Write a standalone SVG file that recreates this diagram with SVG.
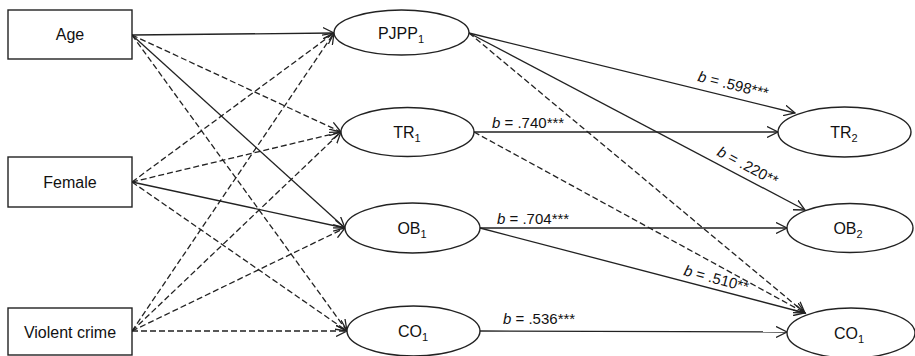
<svg xmlns="http://www.w3.org/2000/svg" width="915" height="356" viewBox="0 0 915 356">
<style>
.box{fill:#fff;stroke:#222;stroke-width:1.4}
.ell{fill:#fff;stroke:#222;stroke-width:1.4}
.t{font-family:"Liberation Sans",Arial,sans-serif;font-size:16px;fill:#111;text-anchor:middle}
.sub{font-size:11px}
.c{font-family:"Liberation Sans",Arial,sans-serif;font-size:15px;fill:#111}
.c .i{font-style:italic}
.s{stroke:#222;stroke-width:1.3;fill:none;marker-end:url(#arr)}
.d{stroke:#222;stroke-width:1.3;fill:none;stroke-dasharray:6 3;marker-end:url(#arr)}
</style>
<defs>
<marker id="arr" markerUnits="userSpaceOnUse" markerWidth="14" markerHeight="12" refX="11" refY="6" orient="auto">
<path d="M0,0.5 L11,6 L0,11.5" fill="none" stroke="#222" stroke-width="1.3"/>
</marker>
</defs>
<rect width="915" height="356" fill="#fff"/>
<g id="connectors">
<line class="s" x1="132" y1="35" x2="334" y2="33"/>
<line class="d" x1="132" y1="35" x2="341" y2="132"/>
<line class="s" x1="132" y1="35" x2="345" y2="228"/>
<line class="d" x1="132" y1="35" x2="347" y2="331"/>
<line class="d" x1="132" y1="182" x2="334" y2="33"/>
<line class="d" x1="132" y1="182" x2="341" y2="132"/>
<line class="s" x1="132" y1="182" x2="345" y2="228"/>
<line class="d" x1="132" y1="182" x2="347" y2="331"/>
<line class="d" x1="132" y1="331" x2="334" y2="33"/>
<line class="d" x1="132" y1="331" x2="341" y2="132"/>
<line class="d" x1="132" y1="331" x2="345" y2="228"/>
<line class="d" x1="132" y1="331" x2="347" y2="331"/>
<line class="s" x1="469" y1="33" x2="795" y2="113"/>
<line class="s" x1="469" y1="33" x2="805" y2="210"/>
<line class="d" x1="469" y1="33" x2="805" y2="313"/>
<line class="s" x1="474" y1="132" x2="778" y2="132"/>
<line class="d" x1="474" y1="132" x2="805" y2="313"/>
<line class="s" x1="480" y1="228" x2="787" y2="228"/>
<line class="s" x1="480" y1="228" x2="805" y2="313"/>
<line class="s" x1="480" y1="331" x2="787" y2="332"/>
<text class="c" transform="translate(697,81) rotate(14)"><tspan class="i">b</tspan> = .598***</text>
<text class="c" transform="translate(716,155) rotate(28)"><tspan class="i">b</tspan> = .220**</text>
<text class="c" transform="translate(683,275) rotate(15)"><tspan class="i">b</tspan> = .510**</text>
<text class="c" x="492" y="128"><tspan class="i">b</tspan> = .740***</text>
<text class="c" x="497" y="224"><tspan class="i">b</tspan> = .704***</text>
<text class="c" x="503" y="324"><tspan class="i">b</tspan> = .536***</text>
</g>
<g id="age"><rect class="box" x="8" y="10" width="124" height="49"/><text class="t" x="70" y="40">Age</text></g>
<g id="female"><rect class="box" x="8" y="157" width="124" height="50"/><text class="t" x="70" y="188">Female</text></g>
<g id="violent"><rect class="box" x="8" y="308" width="124" height="47"/><text class="t" x="70" y="338">Violent crime</text></g>
<g id="pjpp1"><ellipse class="ell" cx="401.5" cy="32.5" rx="67.5" ry="22.5"/><text class="t" x="401" y="39">PJPP<tspan class="sub" dy="4">1</tspan></text></g>
<g id="tr1"><ellipse class="ell" cx="407.5" cy="132" rx="66.5" ry="24.5"/><text class="t" x="407" y="138">TR<tspan class="sub" dy="4">1</tspan></text></g>
<g id="ob1"><ellipse class="ell" cx="412.5" cy="228" rx="67.5" ry="25"/><text class="t" x="412" y="234">OB<tspan class="sub" dy="4">1</tspan></text></g>
<g id="co1a"><ellipse class="ell" cx="413.5" cy="331" rx="66.5" ry="25"/><text class="t" x="413" y="337">CO<tspan class="sub" dy="4">1</tspan></text></g>
<g id="tr2"><ellipse class="ell" cx="844.5" cy="132" rx="66.5" ry="25"/><text class="t" x="844" y="138">TR<tspan class="sub" dy="4">2</tspan></text></g>
<g id="ob2"><ellipse class="ell" cx="850" cy="228" rx="63" ry="24.5"/><text class="t" x="848" y="234">OB<tspan class="sub" dy="4">2</tspan></text></g>
<g id="co1b"><ellipse class="ell" cx="851" cy="333" rx="64" ry="25"/><text class="t" x="849" y="339">CO<tspan class="sub" dy="4">1</tspan></text></g>
</svg>
